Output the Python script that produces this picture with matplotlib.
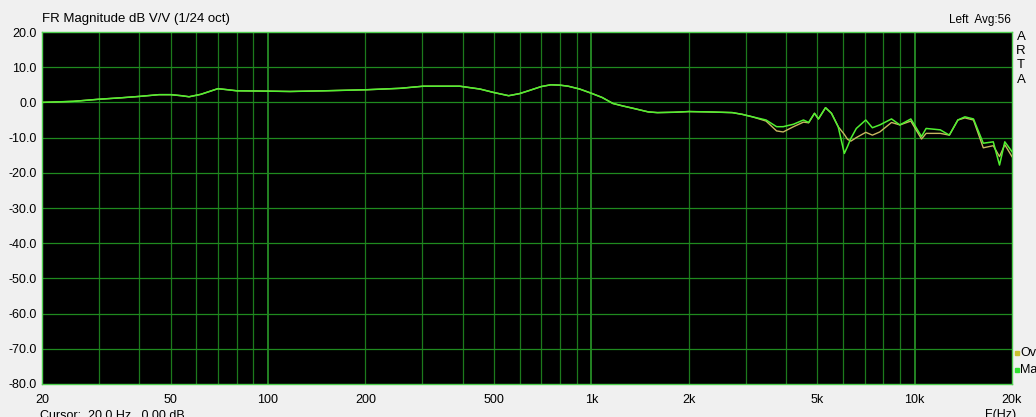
import numpy as np
import matplotlib.pyplot as plt
from matplotlib.patches import Rectangle

plt.rcParams['font.family'] = ['Liberation Sans', 'DejaVu Sans']

# frequency response
freq = [20, 25, 30, 35, 40, 46, 50, 54, 57, 62, 70, 75, 80, 100, 117, 150, 202,
        256, 302, 392, 452, 500, 555, 600, 634, 700, 749, 800, 848, 920, 1000,
        1080, 1166, 1250, 1350, 1500, 1600, 1800, 2000, 2300, 2729, 2930, 3150,
        3470, 3740, 3920, 4220, 4530, 4700, 4900, 5040, 5300, 5530, 5800, 6060,
        6200, 6350, 6600, 7060, 7400, 7800, 8480, 9000, 9730, 10500, 10850,
        12000, 12800, 13600, 14300, 15200, 16300, 17500, 18300, 19000, 20000]
mag_ma = [0.0, 0.3, 0.9, 1.3, 1.7, 2.2, 2.2, 1.9, 1.6, 2.3, 3.9, 3.6, 3.3, 3.2,
          3.1, 3.3, 3.6, 4.0, 4.6, 4.6, 3.8, 2.8, 1.9, 2.5, 3.2, 4.5, 5.0, 4.9,
          4.6, 3.8, 2.6, 1.4, -0.3, -1.0, -1.7, -2.7, -2.9, -2.8, -2.6, -2.7,
          -2.9, -3.4, -4.1, -5.0, -6.9, -6.9, -6.2, -5.0, -5.7, -3.1, -4.7,
          -1.5, -3.1, -6.9, -14.5, -12.5, -10.2, -7.4, -5.0, -7.2, -6.4, -4.7,
          -6.4, -4.7, -9.7, -7.4, -7.8, -9.3, -5.0, -4.1, -4.7, -11.6, -11.2,
          -17.8, -11.2, -14.0]
mag_ov = [0.0, 0.3, 0.9, 1.3, 1.7, 2.2, 2.2, 1.9, 1.6, 2.3, 3.9, 3.6, 3.3, 3.2,
          3.1, 3.3, 3.6, 4.0, 4.6, 4.6, 3.8, 2.8, 1.9, 2.5, 3.2, 4.5, 5.0, 4.9,
          4.6, 3.8, 2.6, 1.4, -0.3, -1.0, -1.7, -2.7, -2.9, -2.8, -2.6, -2.7,
          -2.9, -3.4, -4.1, -5.3, -8.1, -8.4, -6.9, -5.6, -5.8, -3.1, -4.7,
          -1.5, -3.1, -6.9, -9.1, -10.5, -11.0, -10.0, -8.5, -9.3, -8.4, -5.7,
          -6.4, -5.3, -10.4, -8.8, -8.8, -9.3, -5.0, -4.4, -5.0, -12.9, -12.3,
          -15.4, -12.0, -15.4]

xticks = [20, 50, 100, 200, 500, 1000, 2000, 5000, 10000, 20000]
xtick_labels = ['20', '50', '100', '200', '500', '1k', '2k', '5k', '10k', '20k']
yticks = np.arange(-80, 21, 10)

W, H = 1036, 417
fig = plt.figure(figsize=(W / 100, H / 100), dpi=100, facecolor='#f0f0f0')
ax = fig.add_axes([42 / W, (H - 384) / H, 970 / W, 352 / H], facecolor='black')

# grid: every 1-2-3...9 line of each decade, every 10 dB
minor = [m * d for d in (10, 100, 1000, 10000) for m in range(1, 10)]
minor = [f for f in minor if 20 < f < 20000]
for f in minor:
    decade = f in (100, 1000, 10000)
    ax.axvline(f, color='#2a9a2a' if decade else '#1c7a1c',
               lw=1.2 if decade else 0.9, zorder=1)
for y in yticks[1:-1]:
    ax.axhline(y, color='#1f8a1f', lw=0.9, zorder=1)

ax.plot(freq, mag_ov, color='#c8b860', lw=1.0, zorder=3)
ax.plot(freq, mag_ma, color='#50f030', lw=1.1, zorder=4)

ax.set_xscale('log')
ax.set_xlim(20, 20000)
ax.set_ylim(-80, 20)
ax.set_xticks(xticks)
ax.set_xticklabels(xtick_labels)
ax.xaxis.set_minor_locator(plt.NullLocator())
ax.set_yticks(yticks)
ax.set_yticklabels([f'{v:.1f}' for v in yticks])
ax.tick_params(length=0, labelsize=9, colors='black', pad=4)
ax.tick_params(axis='x', pad=7)
for s in ax.spines.values():
    s.set_color('#50d050')
    s.set_linewidth(1.0)

fig.text(42 / W, 1 - 19 / H, 'FR Magnitude dB V/V (1/24 oct)', fontsize=9.5,
         va='center', ha='left')
fig.text(1011 / W, 1 - 20 / H, 'Left  Avg:56', fontsize=8.5, va='center', ha='right')
fig.text(1021 / W, 1 - 31 / H, 'A\nR\nT\nA', fontsize=9.5, va='top', ha='center',
         linespacing=1.25)
fig.text(40 / W, 1 - 409 / H, 'Cursor:  20.0 Hz,  0.00 dB', fontsize=9, va='top', ha='left')
fig.text(985 / W, 1 - 409 / H, 'F(Hz)', fontsize=9, va='top', ha='left')

# legend squares on the right edge
for yy, col, lab in [(353, '#c8c030', 'Ov'), (370, '#30e030', 'Ma')]:
    fig.patches.append(Rectangle((1015 / W, 1 - (yy + 2) / H), 4 / W, 4 / H,
                                 transform=fig.transFigure, color=col))
    fig.text(1020 / W, 1 - yy / H, lab, fontsize=9, va='center', ha='left')

fig.savefig('out.png', dpi=100, facecolor=fig.get_facecolor())
